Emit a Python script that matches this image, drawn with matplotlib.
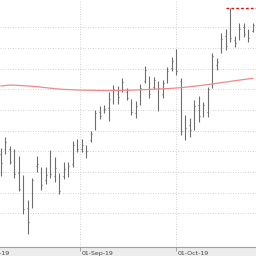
import numpy as np
import matplotlib
matplotlib.use("Agg")
import matplotlib.pyplot as plt

# Daily OHLC bars, Aug-Oct 2019
opens = [129.0, 130.0, 131.0, 127.0, 119.5, 113.0, 102.5, 104.0, 123.0, 121.0,
         116.0, 121.0, 118.0, 117.0, 118.0, 120.0, 124.0, 133.5, 131.0, 132.0,
         135.5, 141.0, 149.0, 150.0, 151.0, 155.0, 158.0, 160.0, 159.0, 154.0,
         148.5, 153.0, 164.0, 164.0, 161.0, 162.0, 158.0, 164.5, 170.5, 176.0,
         164.0, 138.0, 143.0, 142.0, 152.5, 148.0, 149.0, 161.5, 172.0, 178.5,
         186.0, 184.5, 184.0, 186.0, 190.0, 187.5, 188.5]
highs = [131.7, 137.0, 132.7, 131.2, 127.8, 118.6, 106.5, 117.2, 127.6, 122.5,
         122.5, 130.7, 127.3, 119.6, 124.9, 124.9, 135.1, 135.8, 135.8, 133.1,
         139.9, 150.1, 152.0, 152.5, 158.8, 162.2, 161.7, 165.6, 160.7, 155.4,
         154.4, 162.7, 171.4, 166.5, 166.0, 163.9, 164.6, 171.1, 175.7, 179.6,
         165.6, 147.7, 146.2, 154.9, 156.8, 153.9, 161.2, 177.6, 175.2, 187.3,
         189.3, 199.4, 185.9, 192.2, 192.2, 189.3, 192.2]
lows = [118.1, 128.8, 123.9, 117.4, 110.9, 99.8, 90.3, 102.7, 120.3, 111.6,
        114.5, 117.2, 115.0, 109.2, 116.7, 117.7, 122.7, 129.8, 129.8, 126.9,
        134.8, 140.4, 145.7, 148.6, 144.8, 153.0, 153.0, 158.8, 154.9, 147.7,
        146.2, 152.5, 163.1, 155.9, 160.2, 149.6, 155.9, 163.1, 168.9, 167.0,
        138.0, 135.6, 137.0, 140.4, 144.3, 146.7, 146.7, 160.7, 169.4, 177.6,
        179.1, 183.0, 180.6, 183.9, 185.4, 183.0, 187.8]
closes = [124.4, 134.5, 125.0, 119.0, 112.0, 102.0, 96.0, 116.0, 124.0, 114.0,
          118.5, 119.0, 122.0, 111.0, 121.5, 123.0, 133.0, 131.0, 133.0, 130.0,
          138.5, 148.5, 147.0, 150.5, 155.5, 160.0, 156.5, 163.5, 156.0, 149.0,
          152.0, 160.5, 169.5, 158.0, 164.5, 160.5, 163.0, 169.0, 174.0, 169.0,
          140.0, 141.5, 140.5, 152.0, 147.0, 152.5, 160.0, 176.0, 173.5, 184.5,
          181.0, 185.0, 182.5, 189.5, 187.0, 185.0, 191.0]
# long moving average
ma = [161.68, 161.93, 162.17, 162.07, 161.97, 161.83, 161.68, 161.54, 161.35, 161.10,
      160.86, 160.62, 160.38, 160.18, 160.04, 159.94, 159.85, 159.75, 159.70, 159.65,
      159.60, 159.56, 159.51, 159.51, 159.51, 159.51, 159.51, 159.56, 159.60, 159.65,
      159.75, 159.85, 159.94, 160.04, 160.14, 160.23, 160.33, 160.43, 160.57, 160.72,
      160.91, 161.10, 161.35, 161.59, 161.83, 162.12, 162.41, 162.70, 162.99, 163.33,
      163.62, 163.91, 164.25, 164.54, 164.83, 165.12, 165.36]

month_pos = [-5.35, 17.6, 38.9]
month_labels = ["01-Aug-19", "01-Sep-19", "01-Oct-19"]
grid_levels = [100, 110, 120, 130, 140, 150, 160, 170, 180, 190]

x = np.arange(len(highs))
bar_col = "#6e6e6e"

fig = plt.figure(figsize=(2.56, 2.56), dpi=100, facecolor="#ececec")
ax = fig.add_axes([0, 9 / 256, 1, 247 / 256])
ax.set_facecolor("white")

ax.vlines(x, lows, highs, color=bar_col, linewidth=0.8)
ax.hlines(opens, x - 0.22, x, color=bar_col, linewidth=0.8)
ax.hlines(closes, x, x + 0.22, color=bar_col, linewidth=0.8)

ax.plot(x, ma, color="#f08a8a", linewidth=0.9)

# highest high marker
top = int(np.argmax(highs))
ax.hlines(highs[top], top - 1, x[-1] + 1, color="#e01010", linewidth=1.0,
          linestyles=(0, (2, 1.5)))

ax.set_xlim(-0.222, 56.667)
ax.set_ylim(83.79, 203.29)

ax.set_yticks(grid_levels)
ax.set_xticks(month_pos[1:])
ax.set_xticklabels([])
ax.tick_params(axis="y", left=False, labelleft=False)
ax.tick_params(axis="x", direction="out", length=3, width=0.6, color="#999999")
ax.grid(True, color="#c4c4c4", linewidth=0.6, linestyle=(0, (1, 2)))
ax.set_axisbelow(True)

for s in ["top", "left", "right"]:
    ax.spines[s].set_visible(False)
ax.spines["bottom"].set_color("#a0a0a0")
ax.spines["bottom"].set_linewidth(0.8)

for pos, lab in zip(month_pos, month_labels):
    ax.text(pos + 0.25, -0.018, lab, transform=ax.get_xaxis_transform(),
            ha="left", va="top", fontsize=4.5, color="#444444", clip_on=False)

fig.savefig("out.png", dpi=100, facecolor=fig.get_facecolor())
